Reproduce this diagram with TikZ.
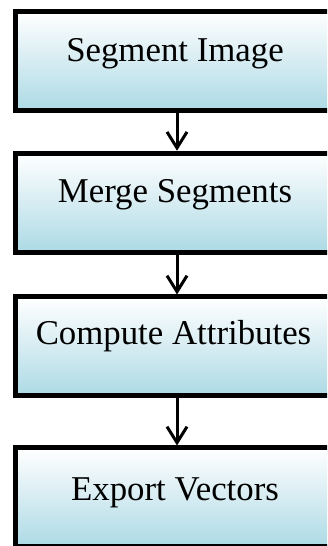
\documentclass[tikz,border=0pt]{standalone}
\usepackage{fontspec}
\newfontfamily\boxfont{Liberation Serif}
\usetikzlibrary{arrows.meta}
\definecolor{boxblue}{RGB}{172,218,229}
\definecolor{boxmid}{RGB}{214,236,242}
\tikzset{
  stepbox/.style={draw=black, line width=5pt, rectangle, inner sep=0pt,
    minimum width=324pt, minimum height=99pt,
    top color=white, bottom color=boxblue, middle color=boxmid},
  steptext/.style={anchor=base, inner sep=0pt,
    font=\boxfont\fontsize{34.8}{42}\selectfont},
  flow/.style={draw=black, line width=3pt,
    -{Straight Barb[length=16pt, width=20pt, line width=3pt]}}
}
\begin{document}
\begin{tikzpicture}[x=1pt, y=1pt]
  \useasboundingbox (0,0) rectangle (327,546);
  \clip (0,0) rectangle (327,546);
  \fill[white] (0,0) rectangle (327,546);

  % process boxes, top to bottom
  \node[stepbox] (b1) at (177,485) {};
  \node[stepbox] (b2) at (177,343.25) {};
  \node[stepbox] (b3) at (177,199.5) {};
  \node[stepbox] (b4) at (177,48.5) {};

  % captions
  \node[steptext] (t1) at (175,484.3) {Segment Image};
  \node[steptext] (t2) at (175,343) {Merge Segments};
  \node[steptext] (t3) at (173.5,201) {Compute Attributes};
  \node[steptext] (t4) at (175,45) {Export Vectors};

  % connectors
  \draw[flow] (b1.south) -- (b2.north);
  \draw[flow] (b2.south) -- (b3.north);
  \draw[flow] (b3.south) -- (b4.north);
\end{tikzpicture}
\end{document}
